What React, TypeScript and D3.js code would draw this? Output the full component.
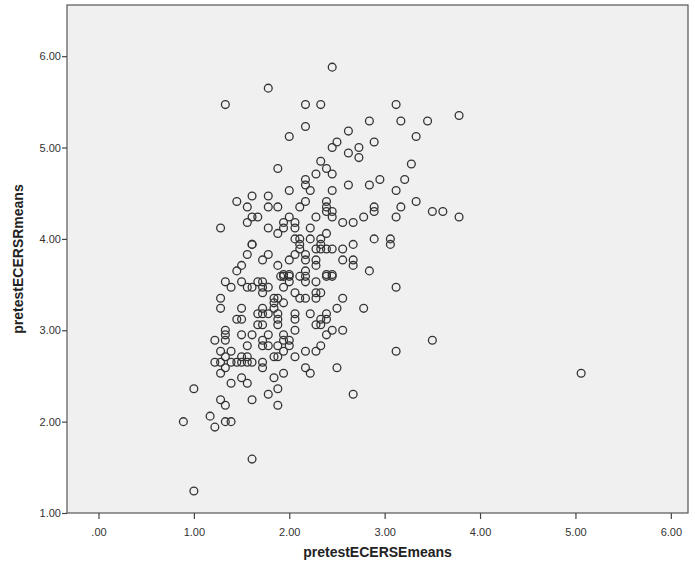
import React, { useEffect, useRef } from 'react'
import * as d3 from 'd3'

// pretest ECERS-E means (x) and ECERS-R means (y), one entry per classroom
const ecersE = [
  1.33, 1.78, 2.45, 2.17, 2.33, 3.12, 2.17, 2.84, 3.17, 2.00, 2.62, 2.50, 2.45, 2.73, 2.89, 2.62, 2.73, 2.33,
  3.45, 3.78, 3.33, 3.28, 3.21, 3.12, 3.33, 3.17, 3.12, 3.50, 3.61, 3.78, 3.12, 3.50, 3.12, 5.06,
  1.88, 1.45, 1.61, 1.78, 1.56, 1.78, 1.88, 1.61, 1.67, 1.56, 1.28, 1.78, 1.88, 1.61, 1.61, 1.56, 1.78, 1.72,
  1.50, 1.45, 1.88,
  2.39, 2.28, 2.45, 2.17, 2.17, 2.00, 2.22, 2.45, 2.62, 2.84, 2.95, 2.11, 2.17, 2.39, 2.39, 2.39, 2.45, 2.45,
  2.89, 2.89, 2.78, 2.28, 2.00, 1.94, 1.94, 2.06, 2.06, 2.22, 2.56, 2.67, 2.39, 2.06, 2.11, 2.22, 2.33, 2.11,
  2.11, 2.33, 2.28, 2.33, 2.39, 2.45, 2.89, 3.06, 3.06, 2.67, 2.56, 2.06, 2.17, 2.17, 2.00, 2.28, 2.28, 2.56,
  2.67, 2.67, 2.84, 2.17, 1.94, 2.00, 2.39, 2.45,
  1.33, 1.39, 1.50, 1.56, 1.61, 1.67, 1.72, 1.72, 1.72, 1.78, 1.91, 1.28, 1.28, 1.50, 1.45, 1.50, 1.72, 1.67,
  1.72, 1.78, 1.67, 1.72, 1.84, 1.84, 1.88, 1.84, 1.88, 1.88, 1.88, 1.33, 1.33, 1.33, 1.22, 1.50, 1.61, 1.78,
  1.72, 1.72, 1.56, 1.78, 1.88, 1.28, 1.39, 1.33, 1.50, 1.56, 1.22, 1.28, 1.39, 1.45, 1.50, 1.56, 1.61, 1.72,
  1.72, 1.84, 1.88, 1.33, 1.28, 1.39, 1.50, 1.56, 1.84, 1.00, 1.88,
  1.94, 2.00, 2.11, 2.17, 2.17, 2.00, 2.39, 2.45, 1.94, 2.28, 2.06, 2.11, 2.17, 2.28, 2.33, 2.28, 2.56, 1.94,
  2.50, 2.78, 2.06, 2.06, 2.22, 2.39, 2.33, 2.39, 2.28, 2.33, 2.06, 2.45, 2.56, 2.39, 1.94, 2.00, 1.94, 2.00,
  2.33, 1.94, 2.17, 2.28, 2.06, 2.17, 2.22, 2.50, 1.94,
  1.28, 1.33, 1.61, 1.78, 1.88, 1.17, 0.89, 1.33, 1.39, 1.22, 1.61, 1.00, 2.67
]

const ecersR = [
  5.47, 5.65, 5.88, 5.47, 5.47, 5.47, 5.23, 5.29, 5.29, 5.12, 5.18, 5.06, 5.00, 5.00, 5.06, 4.94, 4.89, 4.85,
  5.29, 5.35, 5.12, 4.82, 4.65, 4.53, 4.41, 4.35, 4.24, 4.30, 4.30, 4.24, 3.47, 2.89, 2.77, 2.53,
  4.77, 4.41, 4.47, 4.47, 4.35, 4.35, 4.35, 4.24, 4.24, 4.18, 4.12, 4.12, 4.06, 3.94, 3.94, 3.83, 3.83, 3.77,
  3.71, 3.65, 3.71,
  4.77, 4.71, 4.71, 4.65, 4.59, 4.53, 4.53, 4.53, 4.59, 4.59, 4.65, 4.35, 4.41, 4.41, 4.35, 4.30, 4.30, 4.24,
  4.35, 4.30, 4.24, 4.24, 4.24, 4.18, 4.12, 4.18, 4.12, 4.12, 4.18, 4.18, 4.06, 4.00, 4.00, 4.00, 4.00, 3.94,
  3.89, 3.94, 3.89, 3.89, 3.89, 3.89, 4.00, 4.00, 3.94, 3.94, 3.89, 3.83, 3.83, 3.77, 3.77, 3.77, 3.71, 3.77,
  3.77, 3.71, 3.65, 3.65, 3.61, 3.61, 3.61, 3.61,
  3.53, 3.47, 3.53, 3.47, 3.47, 3.53, 3.53, 3.47, 3.41, 3.47, 3.59, 3.35, 3.24, 3.24, 3.12, 3.12, 3.24, 3.18,
  3.18, 3.18, 3.06, 3.06, 3.35, 3.30, 3.35, 3.24, 3.18, 3.12, 3.06, 3.00, 2.95, 2.89, 2.89, 2.95, 2.95, 2.95,
  2.89, 2.83, 2.83, 2.83, 2.83, 2.77, 2.77, 2.71, 2.71, 2.71, 2.65, 2.65, 2.65, 2.65, 2.65, 2.65, 2.65, 2.65,
  2.59, 2.71, 2.71, 2.59, 2.53, 2.42, 2.48, 2.42, 2.48, 2.36, 2.36,
  3.59, 3.59, 3.59, 3.59, 3.53, 3.53, 3.59, 3.59, 3.47, 3.53, 3.41, 3.35, 3.35, 3.41, 3.41, 3.35, 3.35, 3.30,
  3.24, 3.24, 3.18, 3.12, 3.18, 3.18, 3.12, 3.12, 3.06, 3.06, 3.00, 3.00, 3.00, 2.95, 2.95, 2.89, 2.89, 2.83,
  2.83, 2.77, 2.77, 2.77, 2.71, 2.59, 2.53, 2.59, 2.53,
  2.24, 2.18, 2.24, 2.30, 2.18, 2.06, 2.00, 2.00, 2.00, 1.94, 1.59, 1.24, 2.30
]

const xTicks = [0, 1, 2, 3, 4, 5, 6]
const yTicks = [1, 2, 3, 4, 5, 6]

const fmt = (v: number) => d3.format('.2f')(v).replace(/^0\./, '.')

export default function App() {
  const ref = useRef<SVGSVGElement>(null)

  useEffect(() => {
    const svg = d3.select(ref.current)
    svg.selectAll('*').remove()

    const left = 67, right = 688, top = 5, bottom = 513
    const x = d3.scaleLinear().domain([-0.33, 6.18]).range([left, right])
    const y = d3.scaleLinear().domain([1, 6.56]).range([bottom, top])
    const font = 'Arial, "Liberation Sans", sans-serif'

    svg.append('rect')
      .attr('x', left).attr('y', top)
      .attr('width', right - left).attr('height', bottom - top)
      .attr('fill', '#f0f0f0')
      .attr('stroke', '#555')
      .attr('stroke-width', 1.2)

    const yAxis = svg.append('g')
      .attr('transform', `translate(${left},0)`)
      .call(d3.axisLeft(y).tickValues(yTicks).tickFormat(d => fmt(+d)).tickSize(5).tickSizeOuter(0))
    const xAxis = svg.append('g')
      .attr('transform', `translate(0,${bottom})`)
      .call(d3.axisBottom(x).tickValues(xTicks).tickFormat(d => fmt(+d)).tickSize(6).tickSizeOuter(0))

    for (const ax of [xAxis, yAxis]) {
      ax.select('.domain').remove()
      ax.selectAll('line').attr('stroke', '#444').attr('stroke-width', 1.2)
      ax.selectAll('text')
        .attr('fill', '#333')
        .attr('font-family', font)
        .attr('font-size', 11)
    }
    xAxis.selectAll('text').attr('dy', '1.25em')
    yAxis.selectAll('text').attr('x', -6)

    svg.append('g')
      .selectAll('circle')
      .data(d3.zip(ecersE, ecersR))
      .join('circle')
      .attr('cx', d => x(d[0]))
      .attr('cy', d => y(d[1]))
      .attr('r', 3.9)
      .attr('fill', 'none')
      .attr('stroke', '#333')
      .attr('stroke-width', 1.3)

    svg.append('text')
      .attr('x', (left + right) / 2)
      .attr('y', 557)
      .attr('text-anchor', 'middle')
      .attr('font-family', font)
      .attr('font-size', 14)
      .attr('font-weight', 'bold')
      .attr('fill', '#222')
      .text('pretestECERSEmeans')

    svg.append('text')
      .attr('transform', `translate(23,${(top + bottom) / 2}) rotate(-90)`)
      .attr('text-anchor', 'middle')
      .attr('font-family', font)
      .attr('font-size', 14)
      .attr('font-weight', 'bold')
      .attr('fill', '#222')
      .text('pretestECERSRmeans')
  }, [])

  return (
    <svg ref={ref} width={695} height={565}
      style={{ position: 'absolute', left: 0, top: 0, background: '#fff' }} />
  )
}
